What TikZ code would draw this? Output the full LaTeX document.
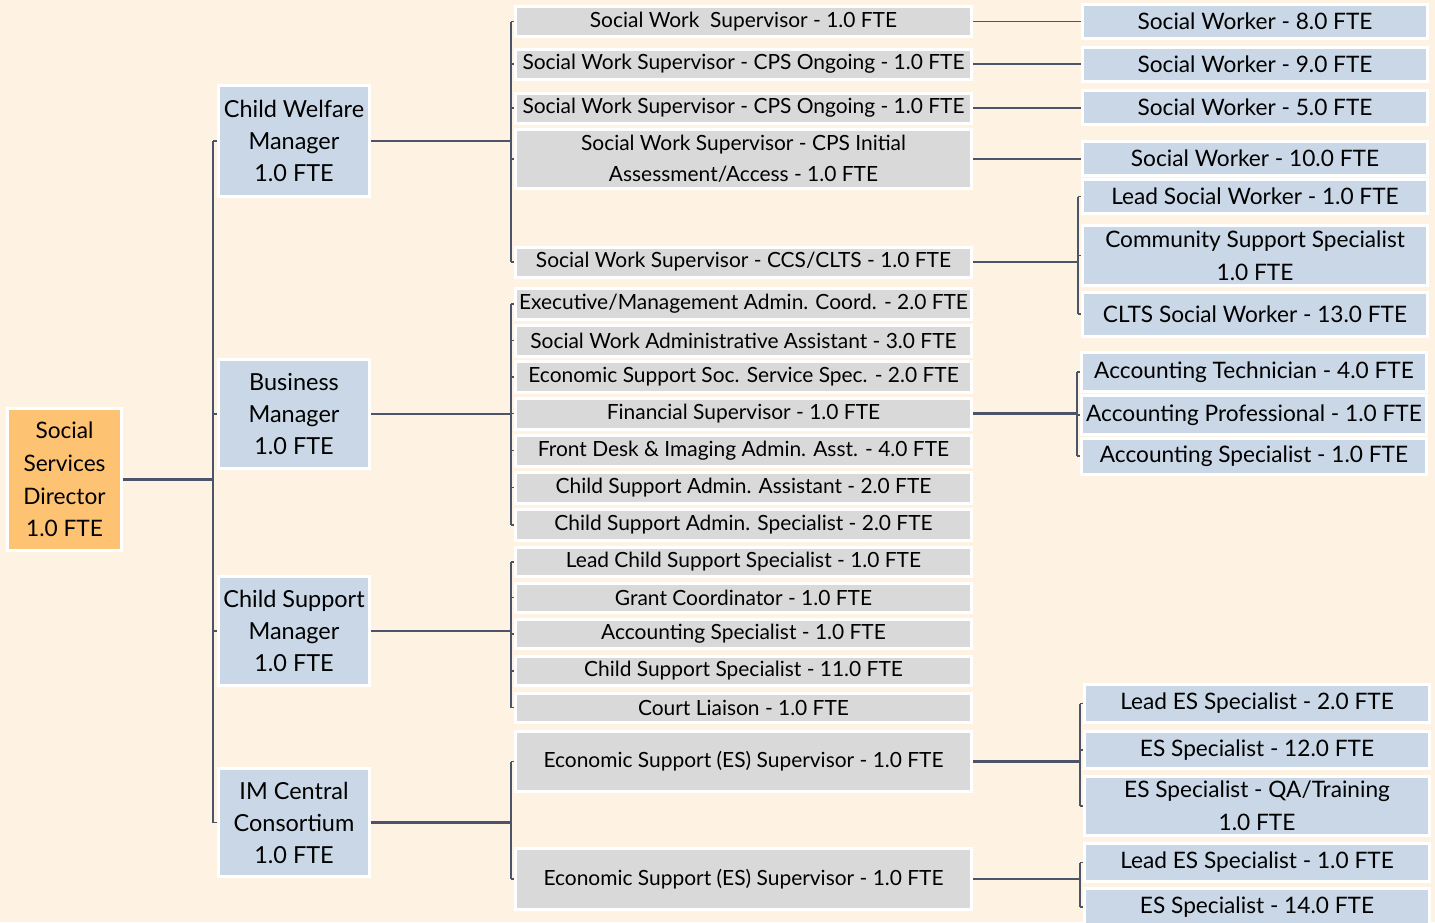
\documentclass[tikz,border=0pt]{standalone}
\usepackage{fontspec}
\setmainfont{Lato}
\definecolor{bgc}{HTML}{FEF2E3}
\definecolor{grayf}{HTML}{D9D9D9}
\definecolor{bluef}{HTML}{C9D7E6}
\definecolor{orangef}{HTML}{FDC373}
\definecolor{linec}{HTML}{4B5567}
\tikzset{
  sz/.style 2 args={minimum width={(#1-3)*0.75pt}, minimum height={(#2-3)*0.75pt}},
  box/.style={draw=white, line width=2.25pt, inner sep=0pt, align=center, text=black},
  rootbox/.style={box, fill=orangef, font=\fontsize{17}{24.5}\selectfont},
  lone/.style={box, fill=bluef, font=\fontsize{17.6}{24}\selectfont},
  ltwo/.style={box, fill=grayf, font=\fontsize{15.7}{23}\selectfont},
  lthree/.style={box, fill=bluef, font=\fontsize{17}{25}\selectfont},
  pline/.style={draw=linec, line width=1.8pt},
  bline/.style={draw=linec, line width=1.1pt},
}
\begin{document}
\begin{tikzpicture}[x=0.75pt, y=-0.75pt]
\useasboundingbox (0,0) rectangle (1435,922);
\clip (0,0) rectangle (1435,922);
\fill[bgc] (0,0) rectangle (1435,922);

\coordinate (b1) at (213,0);
\coordinate (b2) at (511,0);
\coordinate (b3a) at (1078,0);
\coordinate (b3b) at (1077,0);
\coordinate (b3c) at (1080,0);

% ---------- root ----------
\node[rootbox, sz={117}{145}] (root) at (64.5,479.5) {Social\\Services\\Director\\1.0 FTE};

% ---------- level 1 ----------
\node[lone, sz={154}{114}] (cw) at (294,141) {Child Welfare\\Manager\\1.0 FTE};
\node[lone, sz={154}{112}] (bm) at (294,414) {Business\\Manager\\1.0 FTE};
\node[lone, sz={154}{112}] (cs) at (294,631) {Child Support\\Manager\\1.0 FTE};
\node[lone, sz={154}{111}] (im) at (294,822.5) {IM Central\\Consortium\\1.0 FTE};

% ---------- level 2 ----------
\node[ltwo, sz={459}{33}] (s1) at (743.5,21.5) {Social Work\ \ Supervisor - 1.0 FTE};
\node[ltwo, sz={459}{33}] (s2) at (743.5,64) {Social Work Supervisor - CPS Ongoing - 1.0 FTE};
\node[ltwo, sz={459}{33}] (s3) at (743.5,108) {Social Work Supervisor - CPS Ongoing - 1.0 FTE};
\node[ltwo, sz={459}{62}] (s4) at (743.5,159) {Social Work Supervisor - CPS Initial\\Assessment/Access - 1.0 FTE};
\node[ltwo, sz={459}{33}] (s5) at (743.5,262) {Social Work Supervisor - CCS/CLTS - 1.0 FTE};

\node[ltwo, sz={459}{34}] (a1) at (743.5,304) {Executive/Management Admin. Coord. - 2.0 FTE};
\node[ltwo, sz={459}{34}] (a2) at (743.5,340.5) {Social Work Administrative Assistant - 3.0 FTE};
\node[ltwo, sz={459}{34}] (a3) at (743.5,377) {Economic Support Soc. Service Spec. - 2.0 FTE};
\node[ltwo, sz={459}{34}] (a4) at (743.5,413.5) {Financial Supervisor - 1.0 FTE};
\node[ltwo, sz={459}{34}] (a5) at (743.5,450.5) {Front Desk \& Imaging Admin. Asst. - 4.0 FTE};
\node[ltwo, sz={459}{34}] (a6) at (743.5,487.5) {Child Support Admin. Assistant - 2.0 FTE};
\node[ltwo, sz={459}{34}] (a7) at (743.5,525) {Child Support Admin. Specialist - 2.0 FTE};

\node[ltwo, sz={459}{32}] (c1) at (743.5,562) {Lead Child Support Specialist - 1.0 FTE};
\node[ltwo, sz={459}{32}] (c2) at (743.5,597.5) {Grant Coordinator - 1.0 FTE};
\node[ltwo, sz={459}{32}] (c3) at (743.5,634) {Accounting Specialist - 1.0 FTE};
\node[ltwo, sz={459}{32}] (c4) at (743.5,671) {Child Support Specialist - 11.0 FTE};
\node[ltwo, sz={459}{32}] (c5) at (743.5,707.5) {Court Liaison - 1.0 FTE};

\node[ltwo, sz={459}{63}] (e1) at (743.5,761.5) {Economic Support (ES) Supervisor - 1.0 FTE};
\node[ltwo, sz={459}{64}] (e2) at (743.5,879) {Economic Support (ES) Supervisor - 1.0 FTE};

% ---------- level 3 ----------
\node[lthree, sz={348}{37}] (w8) at (1255,21) {Social Worker - 8.0 FTE};
\node[lthree, sz={348}{37}] (w9) at (1255,64) {Social Worker - 9.0 FTE};
\node[lthree, sz={348}{37}] (w5) at (1255,107) {Social Worker - 5.0 FTE};
\node[lthree, sz={348}{37}] (w10) at (1255,158) {Social Worker - 10.0 FTE};
\node[lthree, sz={348}{37}] (lsw) at (1255,196.5) {Lead Social Worker - 1.0 FTE};
\node[lthree, sz={348}{63}] (css) at (1255,255.5) {Community Support Specialist\\1.0 FTE};
\node[lthree, sz={348}{47}] (clts) at (1255,314) {CLTS Social Worker - 13.0 FTE};

\node[lthree, sz={348}{42}] (at) at (1254,372) {Accounting Technician - 4.0 FTE};
\node[lthree, sz={348}{42}] (ap) at (1254,415) {Accounting Professional - 1.0 FTE};
\node[lthree, sz={348}{39}] (as) at (1254,456) {Accounting Specialist - 1.0 FTE};

\node[lthree, sz={348}{41}] (l2) at (1257,703.5) {Lead ES Specialist - 2.0 FTE};
\node[lthree, sz={348}{40}] (e12) at (1257,750) {ES Specialist - 12.0 FTE};
\node[lthree, sz={348}{62}] (qa) at (1257,806) {ES Specialist - QA/Training\\1.0 FTE};
\node[lthree, sz={348}{41}] (l1) at (1257,862.5) {Lead ES Specialist - 1.0 FTE};
\node[lthree, sz={348}{40}] (e14) at (1257,907) {ES Specialist - 14.0 FTE};

% ---------- connectors ----------
\draw[pline] (root.east) -- (root.east -| b1);
\draw[bline] (cw.west -| b1) -- (im.west -| b1);
\foreach \n in {cw,bm,cs,im} \draw[bline] (\n.west -| b1) -- (\n.west);

\draw[pline] (cw.east) -- (cw.east -| b2);
\draw[bline] (s1.west -| b2) -- (s5.west -| b2);
\foreach \n in {s1,s2,s3,s4,s5} \draw[bline] (\n.west -| b2) -- (\n.west);

\draw[pline] (bm.east) -- (bm.east -| b2);
\draw[bline] (a1.west -| b2) -- (a7.west -| b2);
\foreach \n in {a1,a2,a3,a4,a5,a6,a7} \draw[bline] (\n.west -| b2) -- (\n.west);

\draw[pline] (cs.east) -- (cs.east -| b2);
\draw[bline] (c1.west -| b2) -- (c5.west -| b2);
\foreach \n in {c1,c2,c3,c4,c5} \draw[bline] (\n.west -| b2) -- (\n.west);

\draw[pline] (im.east) -- (im.east -| b2);
\draw[bline] (e1.west -| b2) -- (e2.west -| b2);
\foreach \n in {e1,e2} \draw[bline] (\n.west -| b2) -- (\n.west);

\draw[bline] (s1.east) -- (s1.east -| w8.west);
\draw[bline] (s2.east) -- (s2.east -| w9.west);
\draw[bline] (s3.east) -- (s3.east -| w5.west);
\draw[bline] (s4.east) -- (s4.east -| w10.west);

\draw[pline] (s5.east) -- (s5.east -| b3a);
\draw[bline] (lsw.west -| b3a) -- (clts.west -| b3a);
\foreach \n in {lsw,css,clts} \draw[bline] (\n.west -| b3a) -- (\n.west);

\draw[pline] (a4.east) -- (a4.east -| b3b);
\draw[bline] (at.west -| b3b) -- (as.west -| b3b);
\foreach \n in {at,ap,as} \draw[bline] (\n.west -| b3b) -- (\n.west);

\draw[pline] (e1.east) -- (e1.east -| b3c);
\draw[bline] (l2.west -| b3c) -- (qa.west -| b3c);
\foreach \n in {l2,e12,qa} \draw[bline] (\n.west -| b3c) -- (\n.west);

\draw[pline] (e2.east) -- (e2.east -| b3c);
\draw[bline] (l1.west -| b3c) -- (e14.west -| b3c);
\foreach \n in {l1,e14} \draw[bline] (\n.west -| b3c) -- (\n.west);
\end{tikzpicture}
\end{document}
